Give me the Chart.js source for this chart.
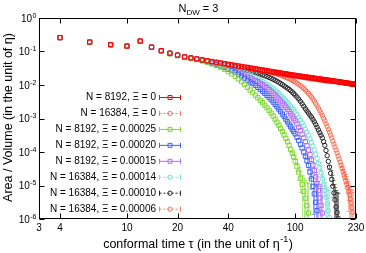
<!DOCTYPE html>
<html><head><meta charset="utf-8">
<script src="https://cdn.jsdelivr.net/npm/chart.js@4.4.1/dist/chart.umd.min.js"></script>
<style>html,body{margin:0;padding:0;background:#fff}canvas{display:block}</style>
</head><body>
<canvas id="c" width="366" height="253"></canvas>
<script>
// conformal time tau (x values shared by all series)
const tau = [4,6,8,10,12,14,16,18,20,22,24,26,28,30,32,34,36,38,40,42,44,46,48,50,52,54,56,58,60,62,64,66,68,70,72,74,76,78,80,82,84,86,88,90,92,94,96,98,100,
 102.5,105,107.5,110,112.5,115,117.5,120,122.5,125,127.5,130,132.5,135,137.5,140,142.5,145,147.5,150,152.5,155,157.5,160,162.5,165,167.5,170,172.5,175,177.5,180,182.5,185,187.5,190,192.5,195,197.5,200,202.5,205,207.5,210,212.5,215,217.5,220,222.5,225,227.5,230];

// Area / Volume for each run (aligned with tau, shorter when the data stop)
const n8192_xi0 = [0.26,0.19,0.16,0.145,0.205,0.135,0.106,0.089,0.078,
 6.90e-2,6.41e-2,5.99e-2,5.63e-2,5.31e-2,5.03e-2,4.78e-2,4.55e-2,4.35e-2,
 4.16e-2,4.00e-2,3.84e-2,3.70e-2,3.57e-2,3.45e-2,3.33e-2,3.23e-2,3.13e-2,3.04e-2,2.95e-2,2.87e-2,2.80e-2,2.73e-2,2.66e-2,2.59e-2,2.53e-2,2.47e-2,2.42e-2,2.37e-2,2.32e-2,2.27e-2,2.22e-2,2.18e-2,2.14e-2,2.10e-2,2.06e-2,2.02e-2,1.99e-2,1.96e-2,1.93e-2,
 1.90e-2,1.86e-2,1.83e-2,1.80e-2,1.77e-2,1.74e-2,1.72e-2,1.69e-2,1.66e-2,1.64e-2,1.61e-2,1.59e-2,1.57e-2,1.55e-2,1.53e-2,1.51e-2,1.49e-2,1.47e-2,1.45e-2,1.43e-2,1.42e-2,1.40e-2,1.38e-2,1.37e-2,1.35e-2,1.33e-2,1.32e-2,1.30e-2,1.29e-2,1.28e-2,1.26e-2,1.25e-2,1.24e-2,1.22e-2,1.21e-2,1.20e-2,1.19e-2,1.18e-2,1.16e-2,1.15e-2,1.14e-2,1.13e-2,1.12e-2,1.11e-2,1.10e-2,1.09e-2,1.08e-2,1.07e-2,1.06e-2,1.05e-2,1.04e-2,1.03e-2];
const n16384_xi0 = [0.26,0.19,0.16,0.145,0.205,0.135,0.106,0.089,0.078,
 6.88e-2,6.38e-2,5.93e-2,5.56e-2,5.23e-2,4.94e-2,4.68e-2,4.45e-2,4.24e-2,
 4.05e-2,3.88e-2,3.72e-2,3.58e-2,3.45e-2,3.33e-2,3.21e-2,3.11e-2,3.01e-2,2.92e-2,2.83e-2,2.75e-2,2.68e-2,2.61e-2,2.54e-2,2.48e-2,2.42e-2,2.36e-2,2.31e-2,2.26e-2,2.21e-2,2.16e-2,2.12e-2,2.08e-2,2.04e-2,2.00e-2,1.96e-2,1.92e-2,1.89e-2,1.86e-2,1.83e-2,
 1.80e-2,1.76e-2,1.73e-2,1.70e-2,1.67e-2,1.64e-2,1.61e-2,1.59e-2,1.56e-2,1.54e-2,1.52e-2,1.50e-2,1.48e-2,1.46e-2,1.44e-2,1.42e-2,1.40e-2,1.38e-2,1.36e-2,1.35e-2,1.33e-2,1.32e-2,1.30e-2,1.29e-2];
const n8192_xi25 = [0.26,0.19,0.158,0.143,0.2,0.132,0.102,0.085,0.075,
 6.76e-2,6.24e-2,5.75e-2,5.25e-2,4.79e-2,4.27e-2,3.80e-2,3.39e-2,2.95e-2,
 2.51e-2,2.14e-2,1.82e-2,1.51e-2,1.26e-2,1.04e-2,8.51e-3,7.08e-3,5.89e-3,4.96e-3,4.17e-3,3.51e-3,2.95e-3,2.48e-3,2.09e-3,1.74e-3,1.45e-3,1.18e-3,9.55e-4,7.76e-4,6.31e-4,5.07e-4,4.07e-4,3.23e-4,2.57e-4,2.02e-4,1.58e-4,1.21e-4,9.33e-5,7.08e-5,5.37e-5,
 3.67e-5,2.51e-5,1.64e-5,1.07e-5,6.68e-6,4.17e-6,2.51e-6,1.51e-6];
const n8192_xi20 = [0.26,0.19,0.159,0.144,0.202,0.133,0.104,0.087,0.076,
 6.84e-2,6.31e-2,5.89e-2,5.37e-2,4.90e-2,4.47e-2,4.07e-2,3.72e-2,3.31e-2,
 2.95e-2,2.66e-2,2.40e-2,2.11e-2,1.86e-2,1.60e-2,1.38e-2,1.23e-2,1.10e-2,9.67e-3,8.51e-3,7.41e-3,6.46e-3,5.63e-3,4.90e-3,4.22e-3,3.63e-3,3.09e-3,2.63e-3,2.24e-3,1.91e-3,1.61e-3,1.35e-3,1.14e-3,9.55e-4,8.03e-4,6.76e-4,5.69e-4,4.79e-4,4.08e-4,3.47e-4,
 2.76e-4,2.19e-4,1.70e-4,1.32e-4,1.00e-4,7.59e-5,5.50e-5,3.98e-5,2.51e-5,1.58e-5,9.42e-6,5.62e-6,3.16e-6,1.78e-6];
const n8192_xi15 = [0.26,0.19,0.16,0.145,0.204,0.134,0.105,0.088,0.077,
 6.84e-2,6.38e-2,5.96e-2,5.50e-2,5.13e-2,4.68e-2,4.37e-2,3.98e-2,3.63e-2,
 3.31e-2,3.02e-2,2.75e-2,2.48e-2,2.24e-2,2.02e-2,1.82e-2,1.66e-2,1.51e-2,1.38e-2,1.26e-2,1.13e-2,1.02e-2,9.21e-3,8.32e-3,7.33e-3,6.46e-3,5.69e-3,5.01e-3,4.36e-3,3.80e-3,3.31e-3,2.88e-3,2.51e-3,2.19e-3,1.88e-3,1.62e-3,1.38e-3,1.17e-3,9.98e-4,8.51e-4,
 6.84e-4,5.50e-4,4.32e-4,3.39e-4,2.63e-4,2.04e-4,1.53e-4,1.15e-4,8.33e-5,6.03e-5,4.12e-5,2.82e-5,1.82e-5,1.17e-5,7.07e-6,4.27e-6,2.54e-6,1.51e-6];
const n16384_xi14 = [0.26,0.19,0.16,0.145,0.204,0.134,0.105,0.088,0.077,
 6.87e-2,6.41e-2,6.03e-2,5.56e-2,5.19e-2,4.79e-2,4.47e-2,4.17e-2,3.80e-2,
 3.55e-2,3.27e-2,3.02e-2,2.75e-2,2.51e-2,2.32e-2,2.14e-2,1.97e-2,1.82e-2,1.66e-2,1.51e-2,1.40e-2,1.29e-2,1.17e-2,1.07e-2,9.65e-3,8.71e-3,7.85e-3,7.08e-3,6.31e-3,5.62e-3,5.01e-3,4.47e-3,3.94e-3,3.47e-3,3.06e-3,2.69e-3,2.37e-3,2.09e-3,1.82e-3,1.58e-3,
 1.32e-3,1.10e-3,9.03e-4,7.41e-4,6.03e-4,4.90e-4,3.93e-4,3.16e-4,2.48e-4,1.95e-4,1.50e-4,1.15e-4,8.62e-5,6.46e-5,4.68e-5,3.39e-5,2.34e-5,1.62e-5,1.07e-5,7.08e-6,4.47e-6,2.82e-6,1.78e-6,1.12e-6];
const n16384_xi10 = [0.26,0.19,0.16,0.145,0.205,0.135,0.106,0.089,0.078,
 6.89e-2,6.43e-2,6.03e-2,5.62e-2,5.25e-2,4.95e-2,4.68e-2,4.42e-2,4.17e-2,
 3.89e-2,3.67e-2,3.47e-2,3.27e-2,3.09e-2,2.92e-2,2.75e-2,2.60e-2,2.45e-2,2.34e-2,2.24e-2,2.12e-2,2.00e-2,1.89e-2,1.78e-2,1.68e-2,1.58e-2,1.48e-2,1.38e-2,1.29e-2,1.20e-2,1.11e-2,1.02e-2,9.43e-3,8.71e-3,8.03e-3,7.41e-3,6.76e-3,6.17e-3,5.56e-3,5.01e-3,
 4.36e-3,3.80e-3,3.23e-3,2.75e-3,2.32e-3,1.95e-3,1.68e-3,1.45e-3,1.26e-3,1.10e-3,9.35e-4,7.94e-4,6.61e-4,5.50e-4,4.57e-4,3.80e-4,3.16e-4,2.63e-4,2.04e-4,1.58e-4,1.11e-4,7.76e-5,5.25e-5,3.55e-5,2.32e-5,1.51e-5,9.54e-6,6.03e-6,3.72e-6,2.29e-6,1.55e-6,1.05e-6];
const n16384_xi06 = [0.26,0.19,0.16,0.145,0.205,0.135,0.106,0.089,0.078,
 6.89e-2,6.40e-2,5.97e-2,5.60e-2,5.27e-2,5.01e-2,4.74e-2,4.52e-2,4.32e-2,
 4.12e-2,3.96e-2,3.80e-2,3.65e-2,3.51e-2,3.39e-2,3.27e-2,3.16e-2,3.05e-2,2.95e-2,2.85e-2,2.75e-2,2.66e-2,2.58e-2,2.51e-2,2.42e-2,2.34e-2,2.26e-2,2.19e-2,2.11e-2,2.04e-2,1.95e-2,1.86e-2,1.78e-2,1.70e-2,1.62e-2,1.55e-2,1.46e-2,1.38e-2,1.30e-2,1.23e-2,
 1.14e-2,1.05e-2,9.56e-3,8.71e-3,7.85e-3,7.08e-3,6.31e-3,5.62e-3,4.96e-3,4.37e-3,3.80e-3,3.31e-3,2.82e-3,2.40e-3,2.04e-3,1.74e-3,1.46e-3,1.23e-3,1.02e-3,8.51e-4,6.99e-4,5.75e-4,4.73e-4,3.89e-4,3.20e-4,2.63e-4,2.14e-4,1.74e-4,1.41e-4,1.15e-4,9.34e-5,7.59e-5,6.17e-5,5.01e-5,4.07e-5,3.31e-5,2.66e-5,2.14e-5,1.72e-5,1.38e-5,1.10e-5,8.71e-6,6.76e-6,5.25e-6,3.98e-6,3.02e-6,2.18e-6,1.58e-6];

// estimated size of the error bars (absolute, in Area/Volume units)
const errorBarSize = [2e-4, 2e-4, 1.0e-5, 8e-6, 7e-6, 6e-6, 5e-6, 5e-6];

const seriesLabels = ["N = 8192, \u039E = 0","N = 16384, \u039E = 0","N = 8192, \u039E = 0.00025","N = 8192, \u039E = 0.00020","N = 8192, \u039E = 0.00015","N = 16384, \u039E = 0.00014","N = 16384, \u039E = 0.00010","N = 16384, \u039E = 0.00006"];
const seriesValues = [n8192_xi0,n16384_xi0,n8192_xi25,n8192_xi20,n8192_xi15,n16384_xi14,n16384_xi10,n16384_xi06];
const xTickValues = [3,4,10,20,40,100,230];
const yTickExponents = [0,-1,-2,-3,-4,-5,-6];

const seriesColors = ['#ff0000','rgba(255,70,70,0.75)','#7cd82c','#3f63ff','#b06ef0','#6fe3cf','#262626','rgba(255,80,50,0.75)'];
const seriesShapes = ['rect','circle','rect','rect','rect','circle','circle','circle'];

const FONT = "'Liberation Sans', Arial, Helvetica, sans-serif";

const errorBars = {
  id: 'errorBars',
  beforeDatasetsDraw(chart) {
    const {ctx, chartArea: a, scales: {x, y}} = chart;
    ctx.save();
    ctx.beginPath(); ctx.rect(a.left, a.top, a.right - a.left, a.bottom - a.top); ctx.clip();
    ctx.lineWidth = 1; ctx.globalAlpha = 0.55;
    for (let i = seriesValues.length - 1; i >= 0; i--) {
      const vals = seriesValues[i], s = errorBarSize[i];
      ctx.strokeStyle = seriesColors[i];
      ctx.beginPath();
      vals.forEach((v, k) => {
        const px = Math.round(x.getPixelForValue(tau[k])) + 0.5;
        const pHi = y.getPixelForValue(v + s);
        const lo = v - s;
        const pLo = lo > 0 ? y.getPixelForValue(lo) : a.bottom + 2;
        if (pLo - pHi < 3) return;
        ctx.moveTo(px, pHi); ctx.lineTo(px, pLo);
        ctx.moveTo(px - 2, Math.round(pHi) + 0.5); ctx.lineTo(px + 2, Math.round(pHi) + 0.5);
        if (lo > 0) { ctx.moveTo(px - 2, Math.round(pLo) + 0.5); ctx.lineTo(px + 2, Math.round(pLo) + 0.5); }
      });
      ctx.stroke();
    }
    ctx.restore();
  }
};

const deco = {
  id: 'deco',
  afterDraw(chart) {
    const {ctx, chartArea: a, scales: {x, y}} = chart;
    ctx.save();
    ctx.strokeStyle = '#000'; ctx.lineWidth = 1;
    const L = a.left + 0.5, R = a.right - 0.5, T = a.top + 0.5, B = a.bottom - 0.5;
    ctx.strokeRect(L, T, R - L, B - T);
    ctx.beginPath();
    xTickValues.forEach(v => {
      const px = Math.round(x.getPixelForValue(v)) + 0.5;
      ctx.moveTo(px, B); ctx.lineTo(px, B - 5);
      ctx.moveTo(px, T); ctx.lineTo(px, T + 5);
    });
    yTickExponents.forEach(e => {
      const py = Math.round(y.getPixelForValue(Math.pow(10, e))) + 0.5;
      ctx.moveTo(L, py); ctx.lineTo(L + 5, py);
      ctx.moveTo(R, py); ctx.lineTo(R - 5, py);
    });
    ctx.stroke();

    ctx.fillStyle = '#000';
    ctx.textBaseline = 'alphabetic';
    ctx.textAlign = 'left';
    yTickExponents.forEach(e => {
      const py = y.getPixelForValue(Math.pow(10, e));
      const sup = e === 0 ? '0' : '-' + (-e);
      ctx.font = '10px ' + FONT; const wb = ctx.measureText('10').width;
      ctx.font = '7px ' + FONT; const ws = ctx.measureText(sup).width;
      const x0 = a.left - 3 - wb - ws;
      ctx.font = '10px ' + FONT; ctx.fillText('10', x0, py + 3.6);
      ctx.font = '7px ' + FONT; ctx.fillText(sup, x0 + wb + 0.5, py - 0.5);
    });

    {
      ctx.font = '11px ' + FONT; const w1 = ctx.measureText('N').width, w3 = ctx.measureText(' = 3').width;
      ctx.font = '8px ' + FONT; const w2 = ctx.measureText('DW').width;
      const cx = (a.left + a.right) / 2 + 1;
      const xs = cx - (w1 + w2 + w3) / 2;
      ctx.font = '11px ' + FONT; ctx.fillText('N', xs, 11.5);
      ctx.font = '8px ' + FONT; ctx.fillText('DW', xs + w1, 14.5);
      ctx.font = '11px ' + FONT; ctx.fillText(' = 3', xs + w1 + w2, 11.5);
    }

    {
      const p1 = 'conformal time \u03C4 (in the unit of \u03B7', p2 = '-1', p3 = ')';
      ctx.font = '12.5px ' + FONT; const w1 = ctx.measureText(p1).width, w3 = ctx.measureText(p3).width;
      ctx.font = '9px ' + FONT; const w2 = ctx.measureText(p2).width;
      const cx = (a.left + a.right) / 2;
      const xs = cx - (w1 + w2 + w3) / 2, by = 247.5;
      ctx.font = '12.5px ' + FONT; ctx.fillText(p1, xs, by);
      ctx.font = '9px ' + FONT; ctx.fillText(p2, xs + w1 + 0.5, by - 6);
      ctx.font = '12.5px ' + FONT; ctx.fillText(p3, xs + w1 + w2 + 1, by);
    }

    ctx.save();
    ctx.translate(11.5, (a.top + a.bottom) / 2 - 1);
    ctx.rotate(-Math.PI / 2);
    ctx.textAlign = 'center';
    ctx.font = '12.5px ' + FONT;
    ctx.fillText('Area / Volume (in the unit of \u03B7)', 0, 0);
    ctx.restore();

    ctx.textAlign = 'right';
    ctx.textBaseline = 'middle';
    ctx.font = '10px ' + FONT;
    seriesLabels.forEach((lab, i) => {
      const ry = 97 + i * 15.95;
      ctx.fillStyle = '#000';
      ctx.fillText(lab, 156, ry + 0.5);
      const col = seriesColors[i];
      ctx.strokeStyle = col; ctx.lineWidth = 1;
      ctx.setLineDash(lab.indexOf('16384') >= 0 ? [2, 2] : []);
      ctx.beginPath(); ctx.moveTo(159.5, ry + 0.5); ctx.lineTo(180.5, ry + 0.5); ctx.stroke();
      ctx.setLineDash([]);
      ctx.beginPath();
      ctx.moveTo(159.5, ry - 2); ctx.lineTo(159.5, ry + 3);
      ctx.moveTo(180.5, ry - 2); ctx.lineTo(180.5, ry + 3);
      ctx.stroke();
      ctx.beginPath();
      if (seriesShapes[i] === 'rect') ctx.rect(168, ry - 1.5, 4, 4);
      else ctx.arc(170, ry + 0.5, 2.2, 0, Math.PI * 2);
      ctx.stroke();
    });
    ctx.restore();
  }
};

new Chart(document.getElementById('c'), {
  type: 'scatter',
  data: {
    datasets: seriesValues.map((vals, i) => ({
      label: seriesLabels[i],
      data: vals.map((v, k) => ({x: tau[k], y: v})),
      pointStyle: seriesShapes[i],
      pointRadius: seriesShapes[i] === 'rect' ? 3 : 2.2,
      pointBorderWidth: 1,
      borderColor: seriesColors[i],
      pointBorderColor: seriesColors[i],
      backgroundColor: 'rgba(0,0,0,0)',
      pointBackgroundColor: 'rgba(0,0,0,0)',
      showLine: false
    }))
  },
  options: {
    responsive: false, animation: false, devicePixelRatio: 1,
    layout: {padding: {top: 18, right: 10, left: 0, bottom: 0}},
    plugins: {legend: {display: false}, title: {display: false}, tooltip: {enabled: false}},
    scales: {
      x: {
        type: 'logarithmic', min: 3, max: 230,
        grid: {display: false, drawTicks: false}, border: {display: false},
        afterBuildTicks: s => { s.ticks = xTickValues.map(v => ({value: v})); },
        afterFit: s => { s.height = 34; s.paddingLeft = 0; s.paddingRight = 0; },
        ticks: {autoSkip: false, maxRotation: 0, minRotation: 0, padding: 3, color: '#000',
          font: {family: FONT, size: 10}, callback: v => String(v)}
      },
      y: {
        type: 'logarithmic', min: 1e-6, max: 1,
        grid: {display: false, drawTicks: false}, border: {display: false},
        ticks: {display: false},
        afterFit: s => { s.width = 39; }
      }
    }
  },
  plugins: [errorBars, deco]
});
</script>
</body></html>
